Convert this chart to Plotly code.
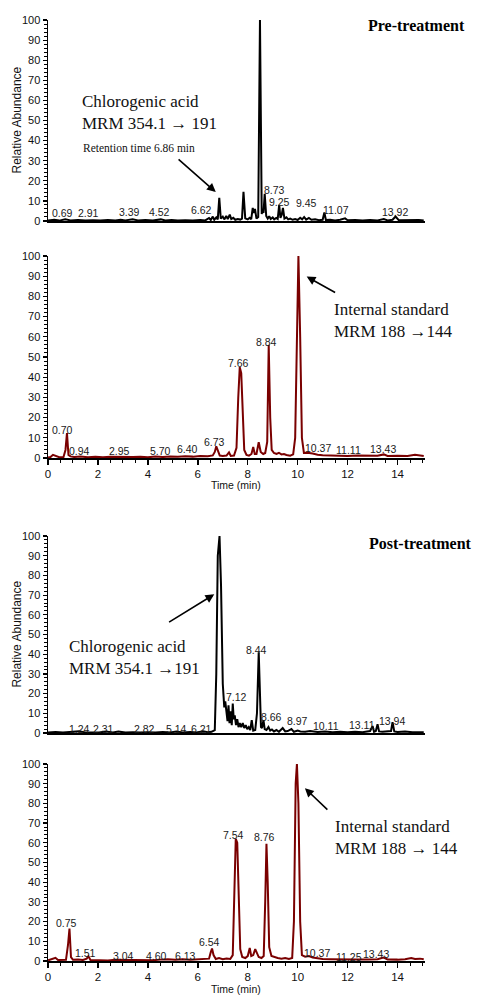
import plotly.graph_objects as go

# ---------------- data (time [min], relative abundance [%]) ----------------
pre_cga = [(0.00,0.3),(0.25,0.6),(0.45,0.2),(0.69,0.9),(0.9,0.3),(1.2,0.5),(1.5,0.2),(1.8,0.4),(2.1,0.2),(2.4,0.5),
           (2.7,0.2),(2.91,0.6),(3.1,0.3),(3.39,0.9),(3.6,0.3),(3.9,0.5),(4.2,0.2),(4.52,0.8),(4.7,0.3),(4.95,0.5),
           (5.2,0.2),(5.5,0.4),(5.8,0.2),(6.1,0.5),(6.3,0.3),(6.45,1.5),(6.52,0.5),(6.6,2.2),(6.66,0.6),(6.74,1.8),
           (6.8,0.8),(6.86,11.5),(6.92,1.2),(7.0,2.2),(7.06,0.8),(7.14,2.5),(7.2,1.0),(7.28,3.2),(7.34,1.0),(7.42,1.6),
           (7.5,0.6),(7.6,1.0),(7.7,0.7),(7.77,1.2),(7.83,14.5),(7.9,1.3),(8.0,0.8),(8.08,1.6),(8.14,0.9),(8.2,6.5),
           (8.25,4.0),(8.29,6.0),(8.35,1.2),(8.42,2.0),(8.49,100),(8.56,3.5),(8.6,6.0),(8.63,4.0),(8.68,13.5),(8.74,2.5),
           (8.8,1.2),(8.86,2.4),(8.92,1.0),(9.0,1.8),(9.06,0.8),(9.14,1.5),(9.2,1.0),(9.26,8.0),(9.31,1.5),(9.36,3.0),
           (9.41,6.5),(9.47,1.2),(9.55,1.8),(9.62,0.8),(9.7,1.2),(9.8,0.6),(9.9,1.0),(10.0,0.5),(10.1,1.6),(10.18,0.8),
           (10.26,2.0),(10.34,0.7),(10.45,1.5),(10.55,0.6),(10.7,0.9),(10.85,0.4),(11.0,0.6),(11.07,4.2),(11.13,0.5),(11.3,0.6),
           (11.5,0.3),(11.7,0.6),(11.9,1.3),(12.0,0.4),(12.3,0.5),(12.6,0.3),(12.9,0.5),(13.2,0.3),(13.45,1.0),(13.6,0.3),
           (13.8,0.6),(13.92,2.2),(14.05,0.4),(14.3,0.5),(14.6,0.3),(14.85,0.5),(15.05,0.3)]

pre_is = [(0.0,0.3),(0.1,0.5),(0.2,1.6),(0.3,1.0),(0.45,0.4),(0.62,0.5),(0.7,4.0),(0.76,12.3),(0.82,1.5),(0.9,0.8),
          (1.05,0.5),(1.3,0.7),(1.6,0.4),(1.9,0.6),(2.2,0.4),(2.5,0.6),(2.8,0.5),(3.1,0.7),(3.4,0.5),(3.7,0.6),
          (4.0,0.4),(4.3,0.7),(4.6,0.5),(4.9,0.8),(5.2,0.6),(5.5,0.9),(5.8,0.7),(6.1,1.0),(6.4,0.9),(6.6,1.3),
          (6.68,3.0),(6.74,5.8),(6.8,3.5),(6.88,1.2),(7.0,1.0),(7.15,1.2),(7.25,2.8),(7.32,1.0),(7.45,1.2),(7.55,5),
          (7.62,30),(7.68,45),(7.74,42),(7.8,20),(7.86,4),(7.95,1.5),(8.05,1.2),(8.15,2.0),(8.22,5.5),(8.28,2.0),
          (8.35,2.0),(8.44,7.8),(8.52,3.0),(8.62,2.0),(8.7,2.5),(8.78,8),(8.84,56),(8.9,20),(8.96,4),(9.05,2.5),
          (9.15,2.0),(9.25,2.6),(9.35,1.8),(9.45,2.0),(9.55,1.5),(9.7,1.2),(9.82,1.8),(9.9,10),(9.96,60),(10.03,100),
          (10.1,60),(10.17,10),(10.25,2.5),(10.4,2.6),(10.6,2.2),(10.8,1.6),(11.0,1.4),(11.3,1.2),(11.6,1.1),(12.0,1.0),
          (12.4,1.2),(12.8,1.0),(13.2,1.1),(13.45,1.8),(13.6,1.0),(14.0,1.1),(14.4,1.0),(14.7,1.6),(15.05,1.0)]

post_cga = [(0.0,0.3),(0.3,0.5),(0.6,0.2),(0.9,0.4),(1.24,0.9),(1.5,0.3),(1.8,0.4),(2.05,0.2),(2.31,0.8),(2.6,0.3),
            (2.82,0.7),(3.1,0.2),(3.4,0.4),(3.7,0.2),(4.0,0.4),(4.3,0.2),(4.6,0.5),(4.9,0.3),(5.14,0.7),(5.4,0.3),
            (5.7,0.5),(5.95,0.3),(6.21,0.9),(6.4,0.4),(6.55,0.6),(6.68,1.5),(6.74,30),(6.8,90),(6.87,100),(6.93,75),
            (7.0,25),(7.06,13),(7.1,16),(7.14,11),(7.19,6),(7.23,14),(7.27,5),(7.31,11),(7.36,4),(7.4,15),
            (7.44,7),(7.48,9),(7.53,4),(7.58,7),(7.63,3),(7.68,5),(7.74,3),(7.8,5),(7.86,2.5),(7.92,4),
            (7.98,2),(8.04,3),(8.1,1.5),(8.16,6.5),(8.22,1.2),(8.3,1.5),(8.37,10),(8.44,41),(8.49,20),(8.53,3),
            (8.57,2.5),(8.63,6.5),(8.68,2.0),(8.75,1.5),(8.83,3.0),(8.9,1.2),(8.97,1.8),(9.05,0.8),(9.15,1.5),(9.25,0.6),
            (9.4,2.5),(9.5,0.8),(9.6,1.0),(9.75,2.0),(9.85,0.6),(10.0,1.2),(10.11,0.8),(10.3,0.6),(10.5,1.0),(10.8,0.5),
            (11.1,0.7),(11.4,0.4),(11.7,0.6),(12.0,0.4),(12.3,0.6),(12.6,0.4),(12.9,1.0),(13.0,3.5),(13.06,0.6),(13.13,1.0),
            (13.2,4.5),(13.26,0.8),(13.4,0.6),(13.6,0.8),(13.74,1.0),(13.8,5.5),(13.87,0.8),(14.0,0.5),(14.3,0.7),(14.6,0.4),
            (14.9,0.6),(15.05,0.4)]

post_is = [(0.0,0.3),(0.15,0.8),(0.3,1.6),(0.4,0.5),(0.55,0.4),(0.72,0.6),(0.8,8),(0.86,16.5),(0.92,2),(1.0,0.6),
           (1.2,0.8),(1.4,0.5),(1.55,1.2),(1.62,2.4),(1.7,0.5),(1.9,0.4),(2.1,0.6),(2.4,0.3),(2.7,0.6),(3.0,0.5),
           (3.3,0.7),(3.6,0.4),(3.9,0.5),(4.2,0.4),(4.5,0.7),(4.8,0.9),(5.1,0.6),(5.4,0.9),(5.7,0.7),(6.0,0.9),
           (6.3,0.8),(6.45,1.2),(6.52,4.5),(6.57,6.3),(6.63,3),(6.72,1.0),(6.85,1.5),(7.0,0.9),(7.15,1.3),(7.3,1.0),
           (7.4,3),(7.46,35),(7.52,62),(7.58,60),(7.64,35),(7.7,6),(7.78,2),(7.9,1.5),(8.0,2.5),(8.08,6.6),
           (8.14,2.5),(8.22,3.0),(8.3,6.0),(8.36,4.5),(8.44,2.0),(8.55,1.5),(8.64,2.5),(8.7,30),(8.75,59.5),(8.8,40),
           (8.86,7),(8.95,2.5),(9.05,2.0),(9.2,1.5),(9.35,1.2),(9.5,1.5),(9.65,1.0),(9.78,1.5),(9.85,20),(9.92,90),
           (9.97,100),(10.03,80),(10.1,20),(10.17,3),(10.3,2.2),(10.45,2.5),(10.6,1.8),(10.8,1.3),(11.0,1.0),(11.3,0.9),
           (11.6,0.8),(12.0,0.6),(12.4,0.7),(12.8,0.8),(13.2,0.9),(13.43,1.8),(13.6,0.8),(14.0,0.7),(14.3,0.9),(14.55,1.5),
           (14.7,1.0),(14.9,1.2),(15.05,0.9)]

# peak labels: (text, time, height)
pre_cga_labels = [("0.69",0.60,4),("2.91",1.64,4),("3.39",3.28,4.6),("4.52",4.45,4.3),("6.62",6.16,5.5),
                  ("8.49",8.41,102.5),("8.73",9.09,15.4),("9.25",9.29,9.6),("9.45",10.37,9),("11.07",11.53,5.5),
                  ("13.92",13.9,4.3)]
pre_is_labels = [("0.70",0.60,13.9),("0.94",1.28,3.5),("2.95",2.88,3.5),("5.70",4.49,3.5),("6.40",5.59,4.5),
                 ("6.73",6.65,8),("7.66",7.61,47),("8.84",8.77,57.4),("10.37",10.81,5),("11.11",12.05,4),
                 ("13.43",13.42,4.5)]
post_cga_labels = [("1.24",1.28,2),("2.31",2.24,2),("2.82",3.88,2),("5.14",5.15,2),("6.21",6.16,2),
                   ("6.91",6.81,103.5),("7.12",7.56,18.3),("8.44",8.36,42),("8.66",8.97,8),("8.97",10.0,6.2),
                   ("10.11",11.12,3.5),("13.11",12.56,4),("13.94",13.78,6)]
post_is_labels = [("0.75",0.75,19.5),("1.51",1.52,4.2),("3.04",3.04,2.5),("4.60",4.35,2.5),("6.13",5.49,2.5),
                  ("6.54",6.46,9.5),("7.54",7.42,64),("8.76",8.66,62.8),("10.01",9.89,103.7),("10.37",10.78,3.9),
                  ("11.25",12.07,2.2),("13.43",13.12,3.5)]

x_ticks = [0, 2, 4, 6, 8, 10, 12, 14]
y_ticks = [0, 10, 20, 30, 40, 50, 60, 70, 80, 90, 100]

BLACK = "#000000"
RED = "#7a0000"
SANS = "Liberation Sans, Arial, sans-serif"
SERIF = "Liberation Serif, Times New Roman, serif"

fig = go.Figure()

panels = [
    (pre_cga, pre_cga_labels, BLACK, "x", "y"),
    (pre_is, pre_is_labels, RED, "x2", "y2"),
    (post_cga, post_cga_labels, BLACK, "x3", "y3"),
    (post_is, post_is_labels, RED, "x4", "y4"),
]

annotations = []
for pts, labels, color, xa, ya in panels:
    fig.add_trace(go.Scatter(
        x=[p[0] for p in pts], y=[p[1] for p in pts], mode="lines",
        line=dict(color=color, width=2), xaxis=xa, yaxis=ya,
        cliponaxis=False, showlegend=False, hoverinfo="skip"))
    for txt, t, h in labels:
        annotations.append(dict(text=txt, x=t, y=h, xref=xa, yref=ya, showarrow=False,
                                xanchor="center", yanchor="middle",
                                font=dict(family=SANS, size=10.5, color="#1a1a1a")))

# domains (paper fractions, computed from the picture's pixel layout)
ydoms = [[0.7864, 1.0], [0.5345, 0.7492], [0.2423, 0.4516], [0.0, 0.2094]]

layout = dict(
    template="none",
    width=477, height=1000,
    margin=dict(l=48, r=52, t=20, b=39, pad=0, autoexpand=False),
    paper_bgcolor="white", plot_bgcolor="white",
    showlegend=False,
)

for i in range(4):
    n = "" if i == 0 else str(i + 1)
    with_ticks = i in (1, 3)
    xa = dict(domain=[0, 1], range=[0, 15.1], anchor="y" + n, automargin=False,
              showline=True, linecolor="black", linewidth=2 if not with_ticks else 1.5,
              showgrid=False, zeroline=False, fixedrange=True)
    if with_ticks:
        xa.update(tickmode="array", tickvals=x_ticks, ticks="outside", ticklen=5, tickwidth=1.5,
                  tickcolor="black", showticklabels=True,
                  tickfont=dict(family=SANS, size=11.5, color="#111"),
                  minor=dict(dtick=0.5, tick0=0, ticks="outside", ticklen=3, tickwidth=1, tickcolor="black",
                             showgrid=False))
    else:
        xa.update(ticks="", showticklabels=False)
    ya = dict(domain=ydoms[i], range=[0, 100], anchor="x" + n, automargin=False,
              showline=True, linecolor="black", linewidth=1.5, showgrid=False, zeroline=False,
              tickmode="array", tickvals=y_ticks, ticks="outside", ticklen=4, tickwidth=1.2,
              tickcolor="black", tickfont=dict(family=SANS, size=11, color="#111"),
              minor=dict(dtick=2, tick0=0, ticks="outside", ticklen=2.5, tickwidth=1, tickcolor="black",
                         showgrid=False),
              fixedrange=True)
    layout["xaxis" + n] = xa
    layout["yaxis" + n] = ya

# axis titles
for ypos in [0.8932, 0.3469]:
    annotations.append(dict(text="Relative Abundance", x=-0.0822, y=ypos, xref="paper", yref="paper",
                            textangle=-90, showarrow=False, xanchor="center", yanchor="middle",
                            font=dict(family=SANS, size=12, color="#111")))
for ypos in [0.5058, -0.0297]:
    annotations.append(dict(text="Time (min)", x=0.4987, y=ypos, xref="paper", yref="paper",
                            showarrow=False, xanchor="center", yanchor="middle",
                            font=dict(family=SANS, size=10.5, color="#111")))

# headings
annotations.append(dict(text="<b>Pre-treatment</b>", x=1.1114, y=97.5, xref="paper", yref="y",
                        showarrow=False, xanchor="right", yanchor="middle",
                        font=dict(family=SERIF, size=16, color="black")))
annotations.append(dict(text="<b>Post-treatment</b>", x=1.1300, y=96.4, xref="paper", yref="y3",
                        showarrow=False, xanchor="right", yanchor="middle",
                        font=dict(family=SERIF, size=16, color="black")))

# compound captions
annotations += [
    dict(text="Chlorogenic acid<br>MRM 354.1 \u2192 191", x=1.28, y=54.2, xref="x", yref="y",
         showarrow=False, xanchor="left", yanchor="middle", align="left",
         font=dict(family=SERIF, size=17, color="#111")),
    dict(text="Retention time 6.86 min", x=1.32, y=36.3, xref="x", yref="y",
         showarrow=False, xanchor="left", yanchor="middle",
         font=dict(family=SERIF, size=11.5, color="#111")),
    dict(text="Retention  time 10.03  min", x=10.25, y=106.4, xref="x2", yref="y2",
         showarrow=False, xanchor="center", yanchor="middle",
         font=dict(family=SANS, size=10.5, color="#222")),
    dict(text="Internal standard<br>MRM 188 \u2192144", x=11.37, y=68.3, xref="x2", yref="y2",
         showarrow=False, xanchor="left", yanchor="middle", align="left",
         font=dict(family=SERIF, size=17, color="#111")),
    dict(text="Chlorogenic acid<br>MRM 354.1 \u2192191", x=0.75, y=38.1, xref="x3", yref="y3",
         showarrow=False, xanchor="left", yanchor="middle", align="left",
         font=dict(family=SERIF, size=17, color="#111")),
    dict(text="Internal standard<br>MRM 188 \u2192 144", x=11.41, y=62.8, xref="x4", yref="y4",
         showarrow=False, xanchor="left", yanchor="middle", align="left",
         font=dict(family=SERIF, size=17, color="#111")),
]

# arrows (tail -> head)
arrows = [("x", "y", 5.17, 31.3, 6.72, 14.4),
          ("x2", "y2", 11.56, 81.5, 10.36, 89.8),
          ("x3", "y3", 4.79, 55.8, 6.66, 70.4),
          ("x4", "y4", 11.25, 76.1, 10.29, 87.7)]
for xa, ya, tx, ty, hx, hy in arrows:
    annotations.append(dict(text="", x=hx, y=hy, ax=tx, ay=ty, xref=xa, yref=ya,
                            axref=xa, ayref=ya, showarrow=True, arrowhead=2, arrowsize=1.1,
                            arrowwidth=1.6, arrowcolor="black"))

layout["annotations"] = annotations
fig.update_layout(**layout)
fig.write_html("out.html", config={"displayModeBar": False, "staticPlot": True},
               post_script="document.body.style.margin='0';document.body.style.padding='0';")
